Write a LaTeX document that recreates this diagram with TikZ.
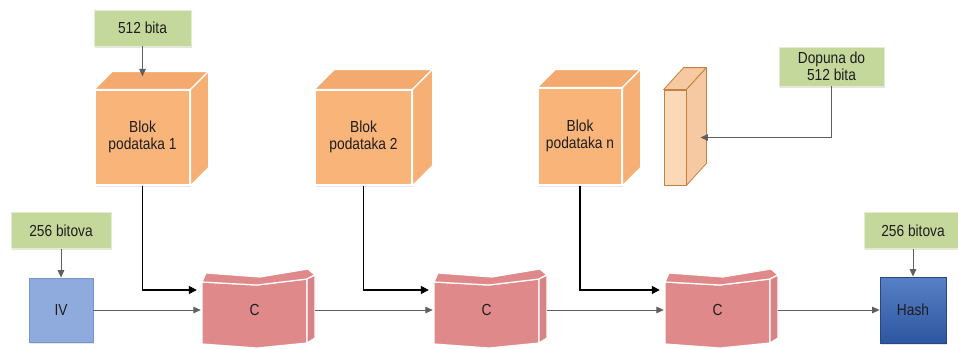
\documentclass[tikz,border=0pt]{standalone}
\usepackage{fontspec}
\setmainfont{Liberation Sans}[FakeStretch=0.86]
\usetikzlibrary{arrows.meta,shadows,calc}

\definecolor{boxgreen}{RGB}{197,216,156}
\definecolor{boxgreenline}{RGB}{226,236,208}
\definecolor{cubeorange}{RGB}{249,180,122}
\definecolor{cubetop}{RGB}{244,170,110}
\definecolor{cubeside}{RGB}{246,175,116}
\definecolor{padfill}{RGB}{251,216,184}
\definecolor{padside}{RGB}{247,201,162}
\definecolor{padline}{RGB}{196,128,62}
\definecolor{cpink}{RGB}{223,137,139}
\definecolor{ivblue}{RGB}{143,170,220}
\definecolor{ivline}{RGB}{118,148,205}
\definecolor{hashtop}{RGB}{88,128,198}
\definecolor{hashbot}{RGB}{45,86,160}
\definecolor{hashline}{RGB}{40,70,130}
\definecolor{arrgray}{RGB}{95,95,95}
\definecolor{txt}{RGB}{30,30,30}

\pgfdeclarelayer{paper}
\pgfdeclarelayer{background}
\pgfsetlayers{paper,background,main}

% white-edged faces of a 3D block: node name, depth x, depth y
\newcommand\blockfaces[3]{%
  \filldraw[cubeedge, fill=cubetop] (#1.north west) -- ++(#2,-#3)
    -- ($(#1.north east)+(#2,-#3)$) -- (#1.north east) -- cycle;
  \filldraw[cubeedge, fill=cubeside] (#1.north east) -- ++(#2,-#3)
    -- ($(#1.south east)+(#2,-#3)$) -- (#1.south east) -- cycle;}

% folded compression-function shape around a node centre
\newcommand\compshape[1]{%
  \begin{pgfonlayer}{background}
  \begin{scope}[shift={(#1.center)}]
    \filldraw[compedge, fill=cpink] (-52.5,-28) -- (2.5,-25) -- (52.5,-31)
      -- (52.5,33) -- (2.5,38) -- (-52.5,34) -- cycle;
    \filldraw[compedge, fill=cpink] (-52.5,-28) -- (-48.5,-37) -- (5.5,-33)
      -- (53.5,-41) -- (60.5,-35) -- (52.5,-31) -- (2.5,-25) -- cycle;
    \filldraw[compedge, fill=cpink!96!black] (52.5,-31) -- (60.5,-35)
      -- (60.5,28) -- (52.5,33) -- cycle;
  \end{scope}
  \end{pgfonlayer}}

\begin{document}
\begin{tikzpicture}[x=1pt,y=-1pt,
  every node/.style={font=\fontsize{16}{17}\selectfont, text=txt,
    inner sep=0pt, align=center},
  labelbox/.style={fill=boxgreen, draw=boxgreenline, line width=0.8pt,
    drop shadow={shadow xshift=1.2pt, shadow yshift=-1.5pt, opacity=0.22}},
  cubefront/.style={fill=cubeorange, draw=white, line width=1.2pt,
    drop shadow={shadow xshift=1pt, shadow yshift=-1.8pt, opacity=0.2}},
  cubeedge/.style={draw=white, line width=1.2pt, line join=round},
  compedge/.style={draw=white, line width=1.2pt, line join=round},
  padedge/.style={draw=padline, line width=0.8pt, line join=round},
  compnode/.style={minimum width=105pt, minimum height=63pt},
  grayarrow/.style={draw=arrgray, line width=1pt,
    -{Triangle[length=7.5pt,width=6.5pt]}},
  blackarrow/.style={draw=black, line width=1.4pt,
    -{Triangle[length=8pt,width=8pt]}, shorten >=5pt}
]
\clip (0,0) rectangle (958,348);
\begin{pgfonlayer}{paper}
  \fill[white] (0,0) rectangle (958,348);
\end{pgfonlayer}

% message blocks
\node[cubefront, minimum width=95pt, minimum height=95pt,
  text depth=4pt] (blk1) at (142.5,137.5) {Blok\\podataka 1};
\blockfaces{blk1}{18}{18}
\node[cubefront, minimum width=97pt, minimum height=95pt,
  text depth=4pt] (blk2) at (363.5,137.5) {Blok\\podataka 2};
\blockfaces{blk2}{20}{20}
\node[cubefront, minimum width=84pt, minimum height=97pt,
  text depth=4pt] (blkn) at (580,136.5) {Blok\\podataka n};
\blockfaces{blkn}{18}{18}

% padding slab
\node[fill=padfill, padedge, minimum width=22pt, minimum height=95pt] (pad)
  at (675,137.5) {};
\filldraw[padedge, fill=padside] (pad.north west) -- ++(20,-22)
  -- ($(pad.north east)+(20,-22)$) -- (pad.north east) -- cycle;
\filldraw[padedge, fill=padside] (pad.north east) -- ++(20,-22)
  -- ($(pad.south east)+(20,-22)$) -- (pad.south east) -- cycle;

% labels
\node[labelbox, minimum width=97pt, minimum height=36pt] (in512)
  at (142.5,28) {512 bita};
\node[labelbox, minimum width=105pt, minimum height=39pt] (padsize)
  at (831.5,66.5) {Dopuna do\\512 bita};
\node[labelbox, minimum width=100pt, minimum height=36pt] (ivbits)
  at (61,230.5) {256 bitova};
\node[labelbox, minimum width=98pt, minimum height=36pt] (outbits)
  at (913,230.5) {256 bitova};

% chaining value boxes
\node[fill=ivblue, draw=ivline, line width=0.8pt,
  minimum width=64pt, minimum height=64pt,
  drop shadow={shadow xshift=1pt, shadow yshift=-1.5pt, opacity=0.2}]
  (iv) at (61,310) {IV};
\node[top color=hashtop, bottom color=hashbot, draw=hashline, line width=0.8pt,
  minimum width=66pt, minimum height=66pt,
  drop shadow={shadow xshift=1pt, shadow yshift=-1.5pt, opacity=0.2}]
  (hash) at (913,310) {Hash};

% compression functions
\node[compnode] (c1) at (254.5,310) {C};
\node[compnode] (c2) at (486.5,310) {C};
\node[compnode] (c3) at (717.5,310) {C};
\compshape{c1}
\compshape{c2}
\compshape{c3}

% connectors
\draw[grayarrow] (in512.south) -- ([yshift=13pt]blk1.north);
\draw[grayarrow] (padsize.south) |- ([xshift=14pt]pad.east);
\draw[grayarrow] (ivbits.south) -- (iv.north);
\draw[grayarrow] (outbits.south) -- (hash.north);

\draw[blackarrow] (blk1.south) |- ([yshift=20pt]c1.west);
\draw[blackarrow] (blk2.south) |- ([yshift=20pt]c2.west);
\draw[blackarrow] (blkn.south) |- ([yshift=20pt]c3.west);

\draw[grayarrow] (iv.east) -- ([xshift=-1pt]c1.west);
\draw[grayarrow] ([xshift=8pt]c1.east) -- ([xshift=-1pt]c2.west);
\draw[grayarrow] ([xshift=8pt]c2.east) -- ([xshift=-1pt]c3.west);
\draw[grayarrow] ([xshift=8pt]c3.east) -- (hash.west);
\end{tikzpicture}
\end{document}
